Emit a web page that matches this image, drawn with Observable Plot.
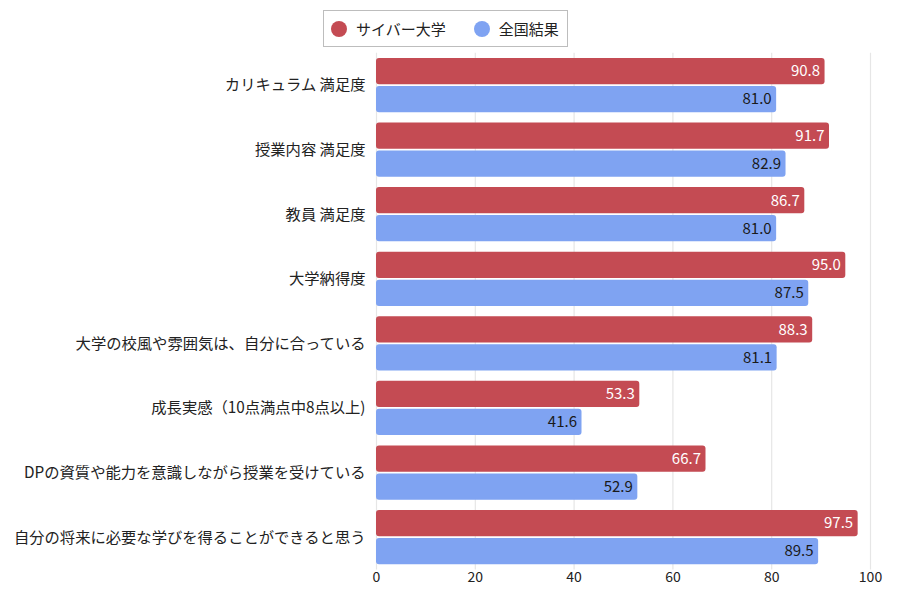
<!DOCTYPE html>
<html>
<head>
<meta charset="utf-8">
<script src="https://cdn.jsdelivr.net/npm/d3@7"></script>
<script src="https://cdn.jsdelivr.net/npm/@observablehq/plot@0.6"></script>
<style>
  html, body { margin: 0; padding: 0; background: #fff; }
  body { width: 900px; height: 600px; font-family: "Noto Sans CJK JP", "Noto Sans", sans-serif; }
  #legend { height: 47px; position: relative; }
  #legend .box { position: absolute; left: 323px; top: 10px; width: 243px; height: 35px; border: 1px solid #bdbdbd; display: flex; align-items: center; font-size: 15px; color: #222; box-sizing: content-box; }
  #legend .item { display: flex; align-items: center; }
  #legend .dot { width: 16px; height: 16px; border-radius: 50%; display: inline-block; margin-right: 9px; }
  #chart svg { display: block; }
</style>
</head>
<body>
<div id="legend"></div>
<div id="chart"></div>
<script>
const categories = [
  "カリキュラム 満足度",
  "授業内容 満足度",
  "教員 満足度",
  "大学納得度",
  "大学の校風や雰囲気は、自分に合っている",
  "成長実感（10点満点中8点以上)",
  "DPの資質や能力を意識しながら授業を受けている",
  "自分の将来に必要な学びを得ることができると思う"
];
const seriesNames = ["サイバー大学", "全国結果"];
const cyberValues = [90.8, 91.7, 86.7, 95.0, 88.3, 53.3, 66.7, 97.5];
const nationalValues = [81.0, 82.9, 81.0, 87.5, 81.1, 41.6, 52.9, 89.5];
const xTicks = [0, 20, 40, 60, 80, 100];
const colors = ["#c44b53", "#7fa3f2"];

const cyber = categories.map((c, i) => ({category: c, value: cyberValues[i]}));
const national = categories.map((c, i) => ({category: c, value: nationalValues[i]}));

// legend
const legend = document.getElementById("legend");
legend.innerHTML = `<div class="box">
  <div class="item" style="margin-left:7px"><span class="dot" style="background:${colors[0]}"></span>${seriesNames[0]}</div>
  <div class="item" style="margin-left:28px"><span class="dot" style="background:${colors[1]}"></span>${seriesNames[1]}</div>
</div>`;

const chart = Plot.plot({
  width: 900,
  height: 553,
  marginLeft: 376,
  marginRight: 30,
  marginTop: 5.8,
  marginBottom: 30.6,
  style: {fontFamily: '"Noto Sans CJK JP", "Noto Sans", sans-serif', fontSize: "14px", color: "#333", background: "#fff"},
  x: {domain: [0, 100], ticks: xTicks, label: null, grid: false},
  y: {domain: categories, paddingInner: 0.16, paddingOuter: 0.08, round: false, label: null},
  marks: [
    Plot.ruleX(xTicks, {stroke: "#e6e6e6", strokeWidth: 1.2}),
    Plot.barX(cyber, {x: "value", y: "category", fill: colors[0], insetBottom: 28, rx: 3}),
    Plot.barX(national, {x: "value", y: "category", fill: colors[1], insetTop: 28, rx: 3}),
    Plot.text(cyber, {x: "value", y: "category", text: d => d.value.toFixed(1), fill: "#fff", textAnchor: "end", dx: -5, dy: -14, fontSize: 15}),
    Plot.text(national, {x: "value", y: "category", text: d => d.value.toFixed(1), fill: "#1a1a1a", textAnchor: "end", dx: -5, dy: 14, fontSize: 15}),
    Plot.axisY({tickSize: 0, tickPadding: 11, fontSize: 15.3, label: null, fill: "#222"}),
    Plot.axisX({ticks: xTicks, tickSize: 0, tickPadding: 2, fontSize: 14, label: null, fill: "#222"})
  ]
});
document.getElementById("chart").appendChild(chart);
</script>
</body>
</html>
